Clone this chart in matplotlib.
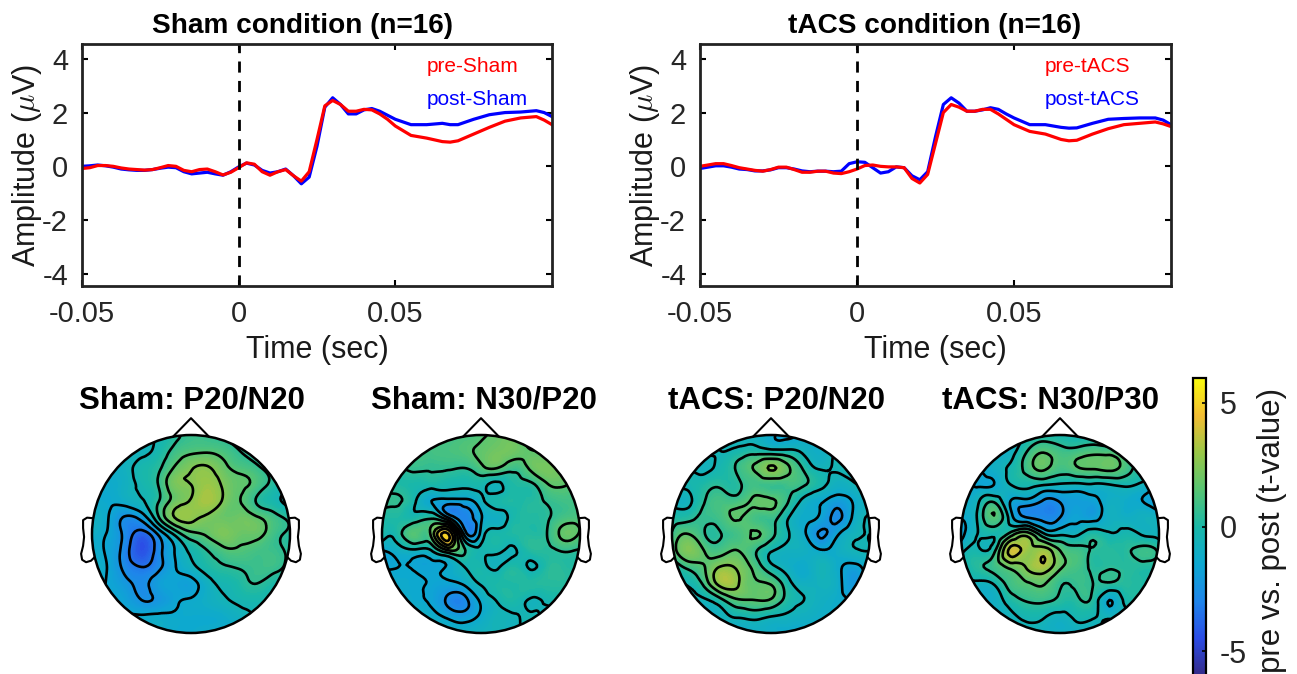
import numpy as np
import matplotlib
matplotlib.use('Agg')
import matplotlib.pyplot as plt
import matplotlib.tri as mtri
from matplotlib.colors import LinearSegmentedColormap, Normalize
from matplotlib.cm import ScalarMappable
from matplotlib.patches import Circle

plt.rcParams['font.family'] = ['Liberation Sans', 'DejaVu Sans']
plt.rcParams['mathtext.fontset'] = 'cm'

W, H = 1297, 674

# time in seconds
time_ms = [-50, -47.5, -45, -42.5, -40, -37.5, -35, -32.5, -30, -27.5, -25, -22.5, -20, -17.5, -15, -12.5,
           -10, -7.5, -5, -2.5, 0, 2.5, 5, 7.5, 10, 12.5, 15, 17.5, 20, 22.5, 25, 27.5, 30, 32.5, 35, 37.5,
           40, 42.5, 45, 47.5, 50, 55, 60, 65, 67.5, 70, 75, 80, 85, 90, 95, 97.5, 100]

pre_sham = [-.08, -.05, .03, .03, 0, -.06, -.1, -.12, -.14, -.12, -.05, .03, 0, -.15, -.2, -.12,
            -.1, -.2, -.32, -.22, -.05, .13, .08, -.2, -.33, -.2, -.12, -.35, -.55, -.2, 1.0, 2.25, 2.45, 2.3, 2.05, 2.05,
            2.12, 2.1, 1.95, 1.75, 1.5, 1.15, 1.05, .92, .9, .95, 1.2, 1.45, 1.68, 1.8, 1.85, 1.72, 1.55]
post_sham = [0, .02, .05, .02, -.03, -.1, -.13, -.15, -.15, -.12, -.07, -.03, -.05, -.2, -.28, -.25,
             -.22, -.28, -.33, -.2, -.02, .12, .05, -.15, -.25, -.2, -.1, -.35, -.65, -.4, .75, 2.2, 2.55, 2.3, 1.95, 1.95,
             2.1, 2.15, 2.05, 1.9, 1.75, 1.55, 1.55, 1.6, 1.55, 1.55, 1.75, 1.92, 2.0, 2.02, 2.07, 2.0, 1.85]
pre_tacs = [0, .05, .1, .1, .03, -.05, -.1, -.15, -.18, -.12, -.03, -.03, -.12, -.22, -.22, -.18,
            -.18, -.25, -.27, -.2, -.1, .03, .05, 0, -.02, -.02, -.05, -.45, -.62, -.3, .85, 2.0, 2.3, 2.2, 2.05, 2.05,
            2.12, 2.12, 1.95, 1.75, 1.55, 1.3, 1.2, 1.0, .95, .97, 1.2, 1.4, 1.55, 1.6, 1.65, 1.58, 1.48]
post_tacs = [-.08, -.03, .02, .02, -.03, -.1, -.12, -.17, -.17, -.13, -.05, -.05, -.1, -.17, -.2, -.18,
             -.18, -.2, -.18, .1, .17, .15, -.05, -.25, -.2, -.02, -.05, -.35, -.5, -.2, 1.1, 2.3, 2.55, 2.35, 2.05, 2.05,
             2.1, 2.18, 2.12, 1.95, 1.8, 1.55, 1.55, 1.45, 1.42, 1.43, 1.6, 1.75, 1.78, 1.8, 1.8, 1.72, 1.55]

# t-values read on a 13x13 grid over the head, top row first
sham_p20 = [
    [-.5, -.5, -.5, -.5, -.4, .2, .8, .7, .3, .1, 0, 0, 0],
    [-.8, -.8, -.8, -.7, -.2, .8, 1.3, 1.4, 1.1, .5, .1, -.1, -.1],
    [-1, -1, -.8, -.2, .3, 1.6, 2.4, 2.6, 1.8, 1.2, .7, .1, 0],
    [-1.3, -1.3, -.9, -.3, .5, 2.2, 2.5, 3, 2.3, 1.7, 1.1, .2, -.2],
    [-1.2, -1.4, -1.1, -.6, .4, 1.9, 2.6, 3.2, 2.3, 1.5, .4, -.2, -.8],
    [-.8, -1.5, -2.6, -2.1, .3, 2.5, 2.8, 2.3, 1.9, 2.0, 1.6, .9, .2],
    [-1, -1.6, -2.8, -3.9, -2.4, -.3, 1.2, 1.7, 2.3, 1.9, 1.8, .9, .3],
    [-1.1, -1.7, -3, -4.4, -3, -1.5, -.3, .5, 1.2, 1.3, 1.0, .8, .3],
    [-.7, -1.6, -2.8, -3.5, -2.8, -1.6, -.8, 0, .4, .6, .8, .8, .2],
    [-1, -1.6, -2.2, -2.7, -2, -1.7, -1.8, -.9, -.3, .1, .5, 0, -.1],
    [-1.4, -1.4, -1.8, -2.5, -2.3, -1.7, -1.4, -1, -.6, -.3, -.2, -.2, -.3],
    [-1.4, -1.4, -1.4, -1.4, -1.3, -1.4, -1.4, -1.4, -1.2, -.8, -.5, -.5, -.5],
    [-1.4, -1.4, -1.4, -1.4, -1.2, -1.4, -1.4, -1.1, -1.1, -1, -.8, -.8, -.8],
]
sham_n30 = [
    [.8, .8, .8, .8, .9, 1.0, 1.3, 1.8, 1.8, 1.2, 1, 1, 1],
    [.8, .8, .8, 1, 1.1, 1.3, 1.7, 2.1, 2, 1.6, 1.5, 1.4, 1.4],
    [.4, .4, .7, .6, .6, .5, 1.2, 1.5, .8, 1.7, 2.2, 1.9, 1.5],
    [0, .1, -.1, -.1, -.2, -.3, -.2, -.7, .1, .3, 1.4, 1.6, 1.2],
    [.7, .6, -.4, -1.5, -1.9, -1.8, -.8, -.1, .1, .2, .6, .9, 1],
    [.2, .1, -.1, .3, -1.5, -3, -1.6, -1, -.1, .2, .4, 1, 1.2],
    [.1, .1, 1.4, 1.8, 4.6, -1.8, -1.2, -.1, .1, .2, .5, 1.8, 1.4],
    [-1.5, -1, -.7, -.5, 1.4, .6, -.3, -.3, -.6, .2, .3, .6, .4],
    [-1.6, -1.5, -1.6, -1.7, -1.4, -.5, -.2, -.6, .1, -.6, .2, .3, .2],
    [-1, -1.3, -1.4, -1.6, -1.7, -1.3, -.4, 0, .1, .2, .3, .3, .2],
    [-1, -1, -1.4, -1.7, -2.7, -2.8, -1.3, -.4, 0, -.6, -.3, -.3, -.3],
    [-.8, -.8, -.8, -1.1, -1.7, -2, -1.3, -.6, -.6, -.3, -.7, -.7, -.7],
    [-.8, -.8, -.8, -.8, -.9, -.9, -.7, -.6, -.6, -.6, -.6, -.6, -.6],
]
tacs_p20 = [
    [-.6, -.6, -.6, -.6, -.6, -.7, -1.3, -1.7, -1.1, -.7, -.6, -.6, -.6],
    [-.4, -.4, -.4, -.5, -.2, .1, -.1, -.2, -.7, -1, -.4, -.3, -.3],
    [-.4, -.5, -.7, -.2, .7, 1.6, 2.6, 1.7, .3, -.6, -.4, -.3, -.3],
    [-.3, -.3, .1, .3, .3, .9, .8, .9, .6, -.2, -.9, -.6, -.4],
    [-.6, -.7, .5, 1, 1, 1.7, 1.7, .6, -.8, -1.4, -2, -1.4, -.6],
    [0, .2, .7, 1, 1.6, 1, .8, -.4, -1.2, -1.7, -2.7, -1.3, -.4],
    [.6, 1.5, .5, .5, 1, 1.6, .8, -.4, -1.3, -2.6, -1.7, -.7, -.5],
    [.8, 2.4, 1.4, 1.1, 1.5, .7, -.4, -.8, -.9, -1.4, -1.1, -.6, -.5],
    [-.3, .8, 1.5, 2.6, 2.3, 1.2, -.2, -.9, -1.3, -.6, -1.2, -1.8, -.8],
    [-.6, -.4, .9, 3, 2.6, 1.6, 1.4, -.1, -.9, -.7, -1.1, -2.2, -1],
    [-.7, -.7, -.6, .3, 1.4, 1.5, 1.4, .1, -.5, -.9, -1.2, -1.5, -1],
    [-.8, -.8, -.8, -.7, -.4, -.2, -.5, -.7, -.9, -1.1, -1.1, -1, -1],
    [-1, -1, -1, -1, -1, -1, -1, -1.3, -1.3, -1.2, -1.2, -1.1, -1.1],
]
tacs_n30 = [
    [-1, -1, -1, -1, -.5, -.1, -.2, -.4, -.5, -.5, -.5, -.5, -.5],
    [-1.3, -1.3, -1.3, -.9, .5, 1.4, .9, .9, 1.2, 1.1, .7, -.2, -.5],
    [-1.5, -1.5, -1, -.3, .9, 1.7, 1, 1.4, 1.6, 1.8, 1, 0, -.4],
    [-1.5, -1.6, -1.5, -.5, -.2, -.4, -.6, -.7, -.6, -.5, -.3, -.7, -1.2],
    [-1, -.7, .3, -1.5, -1.8, -2.6, -2.4, -1.9, -1.8, -1, -1.2, -1.5, -2.3],
    [-1.4, -.4, 1.4, -1, -2.5, -2.8, -2.5, -1.7, -1.9, -.9, -1, -.8, -1],
    [-2, -.5, -.3, .9, 2, -.3, -.7, -.7, .1, -.4, -.2, -.6, -.8],
    [-.7, -.3, .2, 3.8, 2.9, 3, 1.5, .9, .4, .3, .3, .8, .3],
    [-.8, .3, .8, 1.8, 2.6, 3.2, 1.7, 1, .3, .4, .3, .2, .1],
    [-.8, -.7, -.4, .9, 1.4, 1.6, .6, .7, .5, .4, .3, .1, 0],
    [-1, -1, -1, 0, .6, .7, .3, .3, .2, -1.5, -.2, -.4, -.5],
    [-1, -1, -1, -.7, -.3, -.4, -.8, -.3, -.4, -.7, -.7, -.7, -.7],
    [-1, -1, -1, -1, -.7, -.8, -.9, -1, -1, -.7, -.7, -.7, -.7],
]

topo_titles = ['Sham: P20/N20', 'Sham: N30/P20', 'tACS: P20/N20', 'tACS: N30/P30']
topo_maps = [sham_p20, sham_n30, tacs_p20, tacs_n30]
topo_centers = [191, 481, 771, 1060]
topo_title_x = [192, 484, 776, 1050]

parula = LinearSegmentedColormap.from_list('parula', [
    (.2081, .1663, .5292), (.17, .30, .90), (.12, .52, .92), (.05, .66, .82), (.10, .72, .66),
    (.34, .77, .45), (.60, .78, .28), (.95, .74, .20), (.976, .983, .054)])
norm = Normalize(-6, 6)
levels = np.arange(-5.5, 6.5, 1)

fig = plt.figure(figsize=(W / 100, H / 100), dpi=100)


def px_axes(x0, y0, x1, y1):
    return fig.add_axes([x0 / W, 1 - y1 / H, (x1 - x0) / W, (y1 - y0) / H])


def erp_panel(x0, x1, title, title_x, pre, post, pre_name, post_name):
    ax = px_axes(x0, 44, x1, 286)
    t = np.array(time_ms) / 1000
    ax.plot(t, post, color=(0, 0, 1), lw=2.3)
    ax.plot(t, pre, color=(1, 0, 0), lw=2.3)
    ax.axvline(0, color='k', lw=2, ls=(0, (4, 3)))
    ax.set_xlim(-0.05, 0.1)
    ax.set_ylim(-4.45, 4.55)
    ax.set_xticks([-0.05, 0, 0.05])
    ax.set_xticklabels(['-0.05', '0', '0.05'])
    ax.set_yticks([-4, -2, 0, 2, 4])
    ax.set_yticklabels(['-4', '-2', '0', '2', '4'])
    ax.tick_params(direction='in', top=True, right=True, length=4, width=1.5, labelsize=21,
                   labelcolor='#262626', pad=10)
    for s in ax.spines.values():
        s.set_linewidth(2)
        s.set_color('#222222')
    ax.set_xlabel('Time (sec)', fontsize=22, labelpad=5, color='#1a1a1a')
    ax.set_ylabel(r'Amplitude ($\mu$V)', fontsize=22, labelpad=-1, color='#1a1a1a')
    fig.text(title_x / W, 1 - 26 / H, title, fontsize=20.2, fontweight='bold', ha='center', va='center')
    ax.text(0.0599, 3.72, pre_name, color=(1, 0, 0), fontsize=15, va='center')
    ax.text(0.0599, 2.5, post_name, color=(0, 0, 1), fontsize=15, va='center')


def topo_panel(cx, title, title_x, values):
    r = 99
    cy = 534
    ax = px_axes(cx - 1.25 * r, cy - 1.25 * r, cx + 1.25 * r, cy + 1.25 * r)
    ax.set_xlim(-1.25, 1.25)
    ax.set_ylim(-1.25, 1.25)
    ax.axis('off')
    z = np.array(values, dtype=float)[::-1]
    gx, gy = np.meshgrid(np.linspace(-1, 1, 13), np.linspace(-1, 1, 13))
    tri = mtri.Triangulation(gx.ravel(), gy.ravel())
    tri2, z2 = mtri.UniformTriRefiner(tri).refine_field(z.ravel(), subdiv=3)
    head = Circle((0, 0), 1, transform=ax.transData)
    cf = ax.tricontourf(tri2, z2, levels=np.linspace(-6.5, 6.5, 105), cmap=parula, norm=norm)
    cf.set_clip_path(head)
    cl = ax.tricontour(tri2, z2, levels=levels, colors='k', linewidths=1.9, linestyles='solid')
    cl.set_clip_path(head)
    ax.add_patch(Circle((0, 0), 1, fill=False, ec='k', lw=1.8))
    ax.plot([-.18, 0, .18], [.985, 1.17, .985], color='k', lw=1.5)
    ear_x = np.array([.99, 1.05, 1.09, 1.09, 1.08, 1.09, 1.11, 1.10, 1.06, 1.01, .98])
    ear_y = [.16, .165, .14, .06, -.03, -.12, -.2, -.26, -.285, -.27, -.24]
    ax.plot(ear_x, ear_y, color='k', lw=1.5)
    ax.plot(-ear_x, ear_y, color='k', lw=1.5)
    fig.text(title_x / W, 1 - 401 / H, title, fontsize=22.5, fontweight='bold', ha='center', va='center')


erp_panel(82, 552, 'Sham condition (n=16)', 302, pre_sham, post_sham, 'pre-Sham', 'post-Sham')
erp_panel(700, 1171, 'tACS condition (n=16)', 935, pre_tacs, post_tacs, 'pre-tACS', 'post-tACS')

for cx, name, tx, vals in zip(topo_centers, topo_titles, topo_title_x, topo_maps):
    topo_panel(cx, name, tx, vals)

cax = px_axes(1193, 378, 1206, 676)
cb = fig.colorbar(ScalarMappable(norm=norm, cmap=parula), cax=cax)
cb.set_ticks([-5, 0, 5])
cb.set_ticklabels(['-5', '0', '5'])
cb.ax.tick_params(direction='in', length=3, width=1.2, labelsize=22, labelcolor='#262626', pad=10)
cb.outline.set_linewidth(1.6)
fig.text(1272 / W, 1 - 530 / H, 'pre vs. post (t-value)', rotation=90, fontsize=22.5,
         ha='center', va='center', color='#1a1a1a')

fig.savefig('out.png', dpi=100)
